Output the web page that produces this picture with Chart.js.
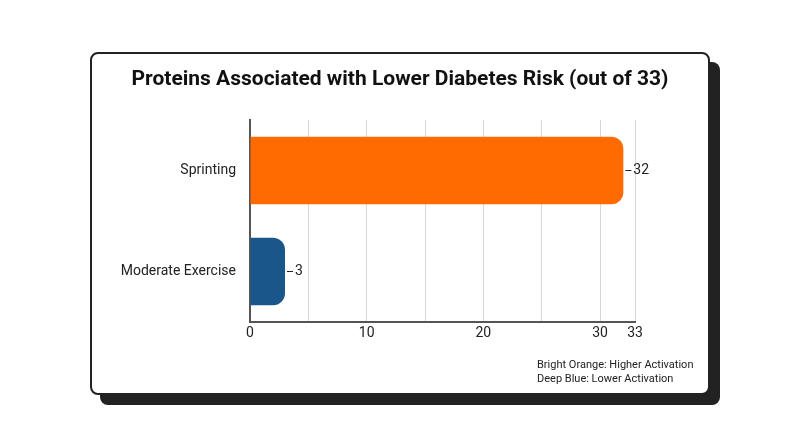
<!DOCTYPE html>
<html><head><meta charset="utf-8">
<script src="https://cdn.jsdelivr.net/npm/chart.js@4"></script>
<style>
body{margin:0;background:#fff;width:800px;height:447px;position:relative;font-family:Roboto,sans-serif}
#card{position:absolute;left:90px;top:52px;width:616px;height:339px;background:#fff;border:2px solid #222;border-radius:8px;box-shadow:10px 10px 0 #222}
canvas{position:absolute;left:-2px;top:-2px}
</style></head><body>
<div id="card"><canvas id="c" width="620" height="343"></canvas></div>
<script>
const categories=["Sprinting","Moderate Exercise"];
const values=[32,3];
const colors=["#FF6B00","#1A568A"];
const tickValues=[0,5,10,15,20,25,30,33];
const shownTicks=[0,10,20,30,33];
const title="Proteins Associated with Lower Diabetes Risk (out of 33)";
const notes=["Bright Orange: Higher Activation","Deep Blue: Lower Activation"];
const deco={id:'deco',afterDraw(ch){const c=ch.ctx;c.save();
c.fillStyle='#111';c.font='bold 21px Roboto';c.textAlign='center';c.textBaseline='middle';
c.fillText(title,310,28);
c.font='11px Roboto';c.textAlign='left';c.fillStyle='#222';
c.fillText(notes[0],447,313);c.fillText(notes[1],447,327);
const m=ch.getDatasetMeta(0);c.font='14px Roboto';c.strokeStyle='#222';c.lineWidth=1;
m.data.forEach((b,i)=>{c.beginPath();c.moveTo(b.x+2,b.y);c.lineTo(b.x+8,b.y);c.stroke();c.fillStyle='#222';c.fillText(values[i],b.x+10,b.y);});
c.restore();}};
new Chart(document.getElementById('c'),{type:'bar',data:{labels:categories,datasets:[{data:values,backgroundColor:colors,borderRadius:12,borderSkipped:'start',barPercentage:0.67,categoryPercentage:1}]},
options:{indexAxis:'y',responsive:false,animation:false,layout:{padding:{top:68,right:75,left:0,bottom:0}},
plugins:{legend:{display:false},tooltip:{enabled:false}},
scales:{x:{min:0,max:33,afterBuildTicks(s){s.ticks=tickValues.map(v=>({value:v}));},afterFit(s){s.height=73;},
ticks:{autoSkip:false,maxRotation:0,color:'#222',font:{size:14,family:'Roboto'},callback:v=>shownTicks.includes(v)?v:''},
grid:{color:'#d8d8d8',drawTicks:false},border:{color:'#555',width:2}},
y:{afterFit(s){s.width=160;},ticks:{color:'#222',font:{size:14,family:'Roboto'},padding:6},grid:{display:false},border:{color:'#555',width:2}}}},
plugins:[deco]});
</script></body></html>
